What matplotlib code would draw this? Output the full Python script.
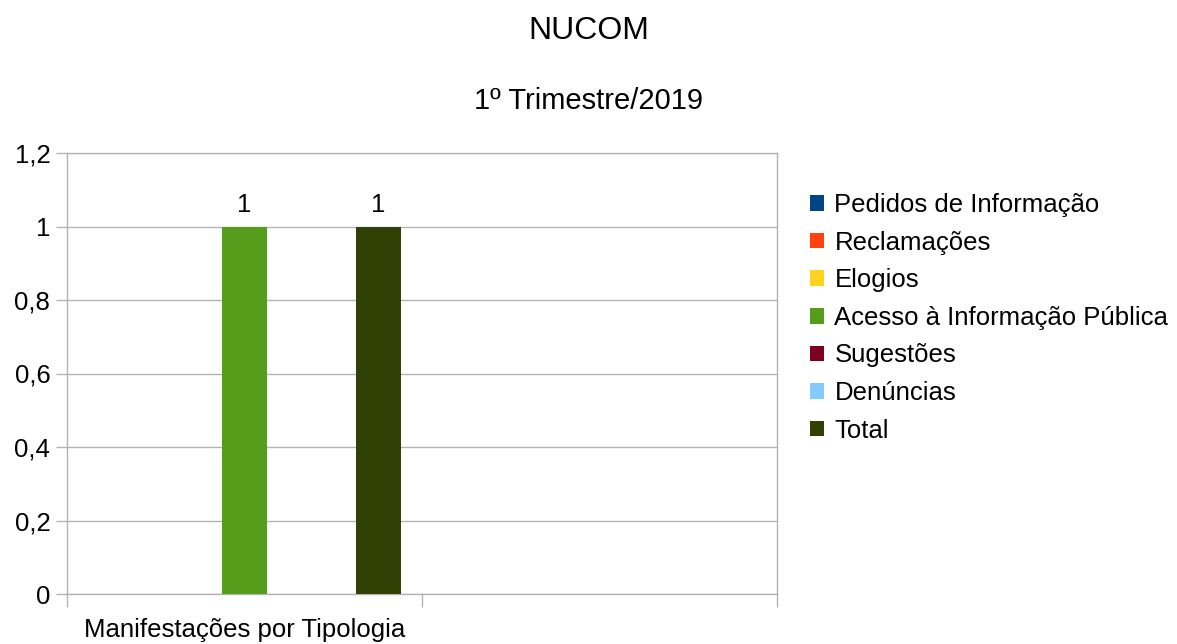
import matplotlib
matplotlib.use("Agg")
import matplotlib.pyplot as plt
from matplotlib.ticker import FuncFormatter, FixedLocator
import numpy as np

plt.rcParams['font.family'] = ['Liberation Sans', 'DejaVu Sans']

categories = ["Manifestações por Tipologia", ""]
series = ["Pedidos de Informação", "Reclamações", "Elogios",
          "Acesso à Informação Pública", "Sugestões", "Denúncias", "Total"]
values = [
    [0, 0],  # Pedidos de Informação
    [0, 0],  # Reclamações
    [0, 0],  # Elogios
    [1, 0],  # Acesso à Informação Pública
    [0, 0],  # Sugestões
    [0, 0],  # Denúncias
    [1, 0],  # Total
]
colors = ["#004586", "#ff420e", "#ffd320", "#579d1c", "#7e0021", "#83caff", "#314004"]

grid_c = "#b3b3b3"
fs = 18.5

fig = plt.figure(figsize=(11.77, 6.44), dpi=100)
ax = fig.add_axes([67 / 1177, 50 / 644, 710 / 1177, 441 / 644])

x = np.arange(len(categories))
w = 0.1258
for i, (name, vals, c) in enumerate(zip(series, values, colors)):
    bars = ax.bar(x + (i - 3) * w, vals, w, color=c, label=name, zorder=3)
    labels = [str(v) if v > 0 else "" for v in vals]
    ax.bar_label(bars, labels=labels, padding=7, fontsize=fs)

ax.set_xlim(-0.5, 1.5)
ax.set_ylim(0, 1.2)
ax.set_yticks(np.arange(0, 1.21, 0.2))
ax.yaxis.set_major_formatter(FuncFormatter(lambda v, p: ("%g" % round(v, 1)).replace(".", ",")))
ax.yaxis.grid(True, color=grid_c, linewidth=1, zorder=0)

ax.set_xticks(x)
ax.set_xticklabels(categories, fontsize=fs)
ax.xaxis.set_minor_locator(FixedLocator([-0.5, 0.5, 1.5]))
ax.tick_params(axis='x', which='major', length=0, pad=17)
ax.tick_params(axis='x', which='minor', length=9, color=grid_c, width=1)
ax.tick_params(axis='y', length=8, color=grid_c, width=1, labelsize=fs, pad=4)

for s in ax.spines.values():
    s.set_color(grid_c)
    s.set_linewidth(1)

fig.text(0.5, 1 - 31 / 644, "NUCOM", ha='center', va='center', fontsize=23)
fig.text(0.5, 1 - 101 / 644, "1º Trimestre/2019", ha='center', va='center', fontsize=21)

ax.legend(loc='upper left', bbox_to_anchor=(810 / 1177, 1 - 193 / 644),
          bbox_transform=fig.transFigure, frameon=False, fontsize=fs,
          handlelength=0.55, handleheight=0.55, handletextpad=0.4,
          labelspacing=0.53, borderpad=0, borderaxespad=0)

fig.savefig("out.png", dpi=100)
